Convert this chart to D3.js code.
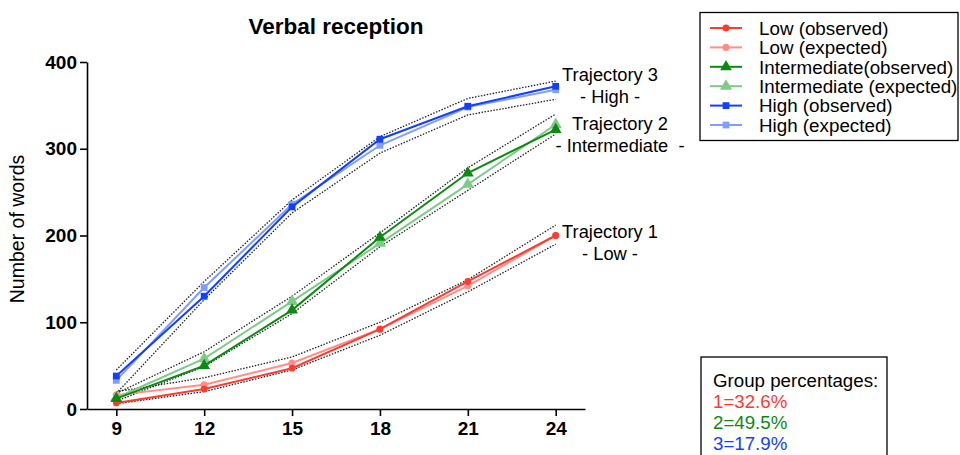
<!DOCTYPE html>
<html lang="en">
<head>
  <meta charset="UTF-8">
  <title>Verbal reception</title>
  <script src="https://d3js.org/d3.v7.min.js"></script>
  <style>
    body
    {
      margin: 0;
      background-color: #fff;
    }

    svg
    {
      font-family: "Liberation Sans", Arial, sans-serif;
    }
  </style>
</head>
<body>
  <svg width="960" height="455"></svg>
  <script>
    const width = 960;
    const height = 455;

    // months of age
    const months = [9, 12, 15, 18, 21, 24];
    const yTicks = [0, 100, 200, 300, 400];

    // trajectory 1 - low
    const lowObserved = [7, 23, 47, 92, 147, 200];
    const lowExpected = [16, 28, 53, 92, 142, 200];
    const lowUpper = [20, 36, 60, 100, 149, 212];
    const lowLower = [6, 20, 45, 85, 135, 190];

    // trajectory 2 - intermediate
    const midObserved = [12, 50, 114, 198, 272, 322];
    const midExpected = [13, 58, 124, 191, 259, 328];
    const midUpper = [18, 66, 130, 203, 278, 340];
    const midLower = [9, 49, 110, 187, 252, 317];

    // trajectory 3 - high
    const highObserved = [38, 130, 233, 311, 349, 372];
    const highExpected = [33, 140, 236, 304, 348, 368];
    const highUpper = [45, 147, 241, 314, 358, 378];
    const highLower = [18, 126, 226, 295, 339, 357];

    const legendLabels = ["Low (observed)", "Low (expected)", "Intermediate(observed)",
      "Intermediate (expected)", "High (observed)", "High (expected)"];
    const percentLabels = ["1=32.6%", "2=49.5%", "3=17.9%"];

    const series = [
      { values: lowObserved, color: "#ff3a2e", symbol: d3.symbolCircle, size: 36 },
      { values: lowExpected, color: "#ff8f86", symbol: d3.symbolCircle, size: 40 },
      { values: midObserved, color: "#0b8a12", symbol: d3.symbolTriangle, size: 60 },
      { values: midExpected, color: "#7ecb88", symbol: d3.symbolTriangle, size: 64 },
      { values: highObserved, color: "#1240ff", symbol: d3.symbolSquare, size: 46 },
      { values: highExpected, color: "#809dff", symbol: d3.symbolSquare, size: 46 }
    ];
    const bounds = [lowUpper, lowLower, midUpper, midLower, highUpper, highLower];

    const svg = d3.select("svg");

    const x = d3.scaleLinear().domain([8, 25]).range([87, 585]);
    const y = d3.scaleLinear().domain([0, 400]).range([409, 62]);

    const line = d3.line()
      .x((d, i) => x(months[i]))
      .y(d => y(d));

    // dotted confidence bands
    svg.append("g")
      .selectAll("path")
      .data(bounds)
      .join("path")
      .attr("d", line)
      .attr("fill", "none")
      .attr("stroke", "#222")
      .attr("stroke-width", 1.3)
      .attr("stroke-dasharray", "1.5,1.5");

    // expected drawn first, observed on top
    const order = [1, 3, 5, 0, 2, 4];
    order.forEach(k => {
      const s = series[k];
      const g = svg.append("g");
      g.append("path")
        .attr("d", line(s.values))
        .attr("fill", "none")
        .attr("stroke", s.color)
        .attr("stroke-width", 2);
      g.selectAll("path.pt")
        .data(s.values)
        .join("path")
        .attr("class", "pt")
        .attr("transform", (d, i) => `translate(${x(months[i])},${y(d)})`)
        .attr("d", d3.symbol().type(s.symbol).size(s.size))
        .attr("fill", s.color);
    });

    // axes
    const yAxis = svg.append("g")
      .attr("transform", `translate(${x(8)},0)`)
      .call(d3.axisLeft(y).tickValues(yTicks).tickSize(7).tickSizeOuter(0).tickPadding(3));

    const xAxis = svg.append("g")
      .attr("transform", `translate(0,${y(0)})`)
      .call(d3.axisBottom(x).tickValues(months).tickSize(7).tickSizeOuter(0).tickPadding(6));

    [yAxis, xAxis].forEach(a => {
      a.select(".domain").attr("stroke", "#000").attr("stroke-width", 1.6);
      a.selectAll(".tick line").attr("stroke", "#000").attr("stroke-width", 1.6);
      a.selectAll(".tick text")
        .attr("fill", "#000")
        .style("font-size", "19px")
        .style("font-weight", "bold")
        .style("font-family", "'Liberation Sans', Arial, sans-serif");
    });

    // title and axis label
    svg.append("text")
      .attr("x", 336)
      .attr("y", 34)
      .attr("text-anchor", "middle")
      .style("font-size", "22.5px")
      .style("font-weight", "bold")
      .text("Verbal reception");

    svg.append("text")
      .attr("transform", "translate(24,229) rotate(-90)")
      .attr("text-anchor", "middle")
      .style("font-size", "19.5px")
      .text("Number of words");

    // trajectory annotations
    const notes = [
      { lines: ["Trajectory 3", "- High -"], cx: 610, y0: 81 },
      { lines: ["Trajectory 2", "- Intermediate  -"], cx: 620, y0: 130 },
      { lines: ["Trajectory 1", "- Low -"], cx: 610, y0: 238 }
    ];
    notes.forEach(n => {
      n.lines.forEach((t, i) => {
        svg.append("text")
          .attr("x", n.cx)
          .attr("y", n.y0 + i * 21.5)
          .attr("text-anchor", "middle")
          .style("font-size", "18.3px")
          .style("white-space", "pre")
          .attr("xml:space", "preserve")
          .text(t);
      });
    });

    // legend
    const legend = svg.append("g");
    legend.append("rect")
      .attr("x", 700).attr("y", 12.5)
      .attr("width", 258).attr("height", 128)
      .attr("fill", "#fff")
      .attr("stroke", "#000")
      .attr("stroke-width", 1.3);

    series.forEach((s, i) => {
      const cy = 28 + i * 19.4;
      legend.append("line")
        .attr("x1", 710).attr("x2", 742)
        .attr("y1", cy).attr("y2", cy)
        .attr("stroke", s.color)
        .attr("stroke-width", 2);
      legend.append("path")
        .attr("transform", `translate(726,${cy})`)
        .attr("d", d3.symbol().type(s.symbol).size(s.size))
        .attr("fill", s.color);
      legend.append("text")
        .attr("x", 759)
        .attr("y", cy + 6.8)
        .style("font-size", "18.8px")
        .text(legendLabels[i]);
    });

    // group percentages box
    const pct = svg.append("g");
    pct.append("rect")
      .attr("x", 701).attr("y", 357)
      .attr("width", 186).attr("height", 110)
      .attr("fill", "#fff")
      .attr("stroke", "#000")
      .attr("stroke-width", 1.3);
    pct.append("text")
      .attr("x", 713).attr("y", 386.5)
      .style("font-size", "18.7px")
      .text("Group percentages:");
    const pctColors = ["#ff3a2e", "#0b8a12", "#1240ff"];
    percentLabels.forEach((t, i) => {
      pct.append("text")
        .attr("x", 713).attr("y", 408 + i * 21.2)
        .attr("fill", pctColors[i])
        .style("font-size", "18.7px")
        .text(t);
    });
  </script>
</body>
</html>
